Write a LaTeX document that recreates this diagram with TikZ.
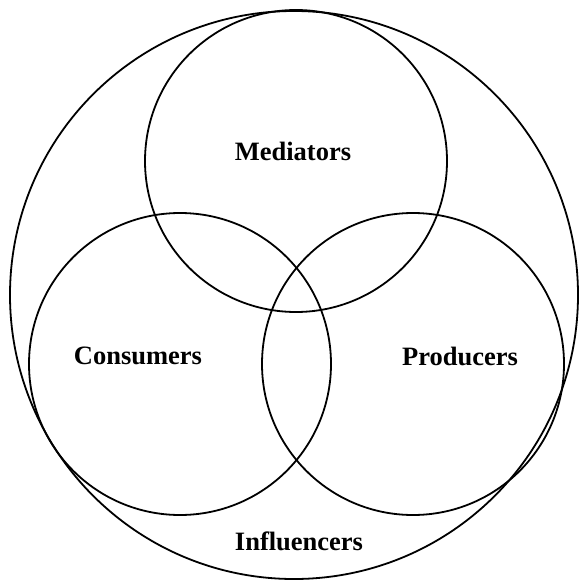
\documentclass[tikz,border=0pt]{standalone}
\usepackage{fontspec}
\setmainfont{Liberation Serif}
\usepackage{tikz}
\tikzstyle{group} = [
  draw,
  circle,
  line width=1.8pt,
  inner sep=0pt,
]
\tikzstyle{label} = [
  font=\fontsize{26.5}{31}\selectfont\bfseries,
]
\begin{document}
\begin{tikzpicture}[
    x=1pt,
    y=-1pt,
  ]
  \useasboundingbox (0,0) rectangle (581,586);
  \node[
    group,
    minimum size=568pt,
  ](outer) at (294,295) {};
  \node[
    group,
    minimum size=302pt,
  ](medc) at (296,161) {};
  \node[
    group,
    minimum size=302pt,
  ](conc) at (180,364) {};
  \node[
    group,
    minimum size=302pt,
  ](proc) at (413,364) {};
  \node[label](med) at (293,151) {Mediators};
  \node[label](con) at (138,356) {Consumers};
  \node[label](pro) at (460,356) {Producers};
  \node[label](inf) at (299,541) {Influencers};
\end{tikzpicture}
\end{document}
